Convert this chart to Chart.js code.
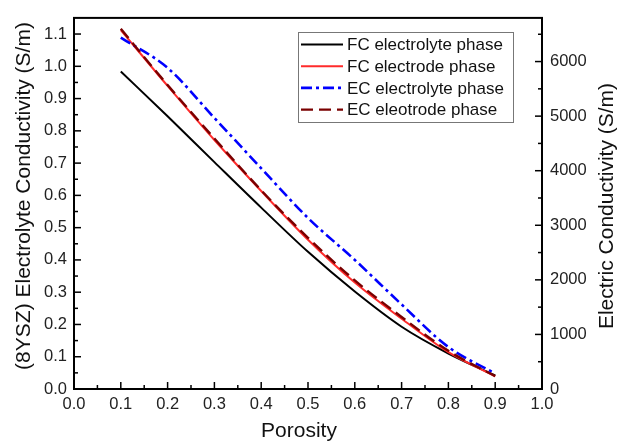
<!DOCTYPE html>
<html>
<head>
<meta charset="utf-8">
<script src="https://cdn.jsdelivr.net/npm/chart.js@4.4.1/dist/chart.umd.min.js"></script>
<style>
  html, body { margin: 0; padding: 0; background: #fff; }
</style>
</head>
<body>
<canvas id="chart" width="619" height="441"></canvas>
<script>
// data
const porosity = [0.1, 0.2, 0.3, 0.4, 0.5, 0.6, 0.7, 0.8, 0.9];
const fcElectrolyte = [0.984, 0.845, 0.703, 0.562, 0.425, 0.302, 0.193, 0.110, 0.042];   // S/m, left axis
const fcElectrode = [6577, 5554, 4562, 3628, 2736, 1950, 1288, 674, 230];                 // S/m, right axis
const ecElectrolyte = [1.089, 0.995, 0.840, 0.684, 0.530, 0.400, 0.262, 0.130, 0.048];   // S/m, left axis
const ecElectrode = [6600, 5570, 4590, 3640, 2770, 1990, 1320, 700, 235];                 // S/m, right axis

const xTicks = [0, 0.1, 0.2, 0.3, 0.4, 0.5, 0.6, 0.7, 0.8, 0.9, 1.0];
const yTicks = [0, 0.1, 0.2, 0.3, 0.4, 0.5, 0.6, 0.7, 0.8, 0.9, 1.0, 1.1];
const y1Ticks = [0, 1000, 2000, 3000, 4000, 5000, 6000];

const xTitle = "Porosity";
const yTitle = "(8YSZ) Electrolyte Conductivity (S/m)";
const y1Title = "Electric Conductivity (S/m)";

const FONT = "'Liberation Sans', Arial, sans-serif";
const tickFont = { family: FONT, size: 16.5 };

function pts(ys) {
  return porosity.map((x, i) => ({ x, y: ys[i] }));
}

/* FRAME, TICKS, LEGEND, TITLES */
const decor = {
  id: "decor",
  afterDraw(chart) {
    const { ctx, chartArea: a, scales } = chart;
    ctx.save();

    const line = (x1, y1, x2, y2) => {
      ctx.beginPath();
      ctx.moveTo(x1, y1);
      ctx.lineTo(x2, y2);
      ctx.stroke();
    };
    const mids = arr => arr.slice(0, -1).map((v, i) => (v + arr[i + 1]) / 2);

    ctx.strokeStyle = "#000";
    ctx.lineWidth = 1.5;
    xTicks.forEach(v => { const p = scales.x.getPixelForValue(v); line(p, a.bottom, p, a.bottom - 7); });
    mids(xTicks).forEach(v => { const p = scales.x.getPixelForValue(v); line(p, a.bottom, p, a.bottom - 4); });
    yTicks.forEach(v => { const p = scales.y.getPixelForValue(v); line(a.left, p, a.left + 7, p); });
    mids(yTicks).forEach(v => { const p = scales.y.getPixelForValue(v); line(a.left, p, a.left + 4, p); });
    y1Ticks.forEach(v => { const p = scales.y1.getPixelForValue(v); line(a.right, p, a.right - 7, p); });
    mids(y1Ticks.concat([7000])).forEach(v => {
      const p = scales.y1.getPixelForValue(v);
      if (p > a.top) line(a.right, p, a.right - 4, p);
    });

    ctx.lineWidth = 2;
    ctx.strokeRect(a.left, a.top, a.width, a.height);

    // legend
    ctx.fillStyle = "#fff";
    ctx.fillRect(298, 32, 215, 90);
    ctx.strokeStyle = "#777";
    ctx.lineWidth = 1;
    ctx.strokeRect(298.5, 32.5, 215, 90);
    ctx.font = "17px " + FONT;
    ctx.textBaseline = "middle";
    ctx.textAlign = "left";
    chart.data.datasets.forEach((ds, i) => {
      const y = 44.5 + i * 21.7;
      ctx.strokeStyle = ds.borderColor;
      ctx.lineWidth = ds.borderWidth;
      ctx.setLineDash(ds.borderDash || []);
      line(301, y, 343, y);
      ctx.setLineDash([]);
      ctx.fillStyle = "#111";
      ctx.fillText(ds.label, 347, y + 1);
    });

    // axis titles
    ctx.fillStyle = "#111";
    ctx.font = "21px " + FONT;
    ctx.textAlign = "center";
    ctx.fillText(xTitle, 299, 431);

    ctx.save();
    ctx.translate(24, 196);
    ctx.rotate(-Math.PI / 2);
    ctx.fillText(yTitle, 0, 0);
    ctx.restore();

    ctx.save();
    ctx.translate(607, 206);
    ctx.rotate(-Math.PI / 2);
    ctx.fillText(y1Title, 0, 0);
    ctx.restore();

    ctx.restore();
  }
};

new Chart(document.getElementById("chart"), {
  type: "line",
  data: {
    datasets: [
      { label: "FC electrolyte phase", data: pts(fcElectrolyte), yAxisID: "y",
        borderColor: "#000000", borderWidth: 2, order: 3 },
      { label: "FC electrode phase", data: pts(fcElectrode), yAxisID: "y1",
        borderColor: "#ff2b2b", borderWidth: 2, order: 2 },
      { label: "EC electrolyte phase", data: pts(ecElectrolyte), yAxisID: "y",
        borderColor: "#0000ff", borderWidth: 2.6, borderDash: [11, 4, 3, 4], order: 1 },
      { label: "EC eleotrode phase", data: pts(ecElectrode), yAxisID: "y1",
        borderColor: "#7a0000", borderWidth: 2.4, borderDash: [12, 6], order: 0 }
    ]
  },
  options: {
    responsive: false,
    animation: false,
    layout: { padding: { top: 15, left: 0, right: 0, bottom: 0 } },
    elements: {
      point: { radius: 0 },
      line: { cubicInterpolationMode: "monotone", fill: false }
    },
    plugins: {
      legend: { display: false },
      tooltip: { enabled: false }
    },
    scales: {
      x: {
        type: "linear", min: 0, max: 1,
        afterBuildTicks: s => { s.ticks = xTicks.map(v => ({ value: v })); },
        afterFit: s => { s.height = 52; },
        grid: { display: false, drawTicks: false },
        border: { display: false },
        ticks: { padding: 6, font: tickFont, color: "#222", autoSkip: false, maxRotation: 0,
                 callback: v => v.toFixed(1) }
      },
      y: {
        type: "linear", position: "left", min: 0, max: 1.15,
        afterBuildTicks: s => { s.ticks = yTicks.map(v => ({ value: v })); },
        afterFit: s => { s.width = 74; },
        grid: { display: false, drawTicks: false },
        border: { display: false },
        ticks: { padding: 7, font: tickFont, color: "#222", callback: v => v.toFixed(1) }
      },
      y1: {
        type: "linear", position: "right", min: 0, max: 6800,
        afterBuildTicks: s => { s.ticks = y1Ticks.map(v => ({ value: v })); },
        afterFit: s => { s.width = 77; },
        grid: { display: false, drawTicks: false },
        border: { display: false },
        ticks: { padding: 8, font: tickFont, color: "#222", callback: v => String(v) }
      }
    }
  },
  plugins: [decor]
});
</script>
</body>
</html>
